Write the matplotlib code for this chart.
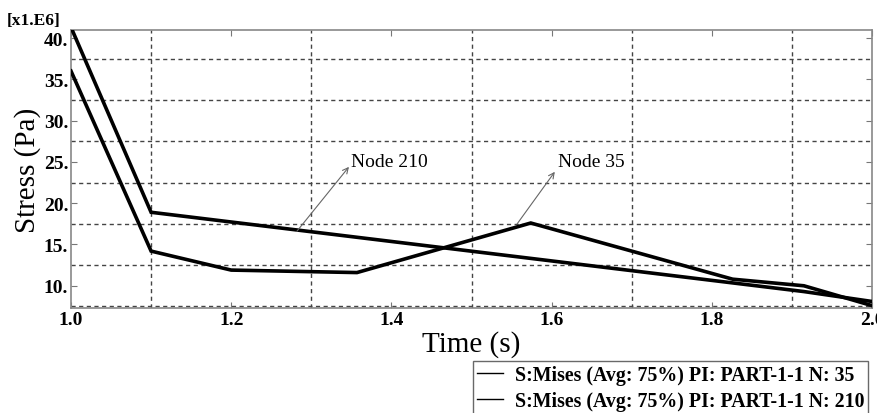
import matplotlib
matplotlib.use("Agg")
import matplotlib.pyplot as plt
from matplotlib.lines import Line2D
from matplotlib.ticker import FuncFormatter, FixedLocator

# ---- data (stress in 1e6 Pa) ----
t_node35 = [1.0, 1.1, 1.2, 1.357, 1.574, 1.826, 1.915, 2.0]
s_node35 = [36.0, 14.2, 11.9, 11.6, 17.6, 10.8, 10.0, 7.6]
t_node210 = [1.0, 1.1, 1.915, 2.0]
s_node210 = [41.3, 18.9, 9.3, 8.1]
legend_labels = ["S:Mises (Avg: 75%) PI: PART-1-1 N: 35",
                 "S:Mises (Avg: 75%) PI: PART-1-1 N: 210"]
x_ticks = [1.0, 1.2, 1.4, 1.6, 1.8, 2.0]
y_ticks = [10, 15, 20, 25, 30, 35, 40]
x_grid = [1.1, 1.3, 1.5, 1.7, 1.9]
y_grid = [7.5, 12.5, 17.5, 22.5, 27.5, 32.5, 37.5]

plt.rcParams['font.family'] = ['Liberation Serif', 'DejaVu Serif']

fig = plt.figure(figsize=(8.77, 4.14), dpi=100)
ax = fig.add_axes([71/877, 1 - 309/414, (872 - 71)/877, (309 - 31)/414])

ax.plot(t_node35, s_node35, color='black', lw=2.6, solid_joinstyle='miter', zorder=3)
ax.plot(t_node210, s_node210, color='black', lw=2.6, solid_joinstyle='miter', zorder=3)

ax.set_xlim(1.0, 2.0)
ax.set_ylim(7.31, 40.97)

gcol = '#444444'
for g in x_grid:
    ax.axvline(g, color=gcol, lw=1.0, ls=(0, (3, 2.5)), zorder=1)
for g in y_grid:
    ax.axhline(g, color=gcol, lw=1.0, ls=(0, (3, 2.5)), zorder=1)

ax.xaxis.set_major_locator(FixedLocator(x_ticks))
ax.yaxis.set_major_locator(FixedLocator(y_ticks))
ax.xaxis.set_major_formatter(FuncFormatter(lambda v, p: f"{v:.1f}"))
ax.yaxis.set_major_formatter(FuncFormatter(lambda v, p: f"{v:.0f}."))
ax.tick_params(direction='in', length=4, width=0.8, colors='#777777',
               top=True, right=True, labelcolor='black', pad=2)
for lab in ax.get_xticklabels() + ax.get_yticklabels():
    lab.set_fontweight('bold')
    lab.set_fontsize(14)
for sp in ax.spines.values():
    sp.set_color('#888888')
    sp.set_linewidth(1.2)

ax.set_xlabel("Time (s)", fontsize=21, labelpad=2)
ax.set_ylabel("Stress (Pa)", fontsize=21, labelpad=2)

fig.text(7/877, 1 - 21/414, "[x1.E6]", fontsize=12.5, fontweight='bold',
         ha='left', va='center')

# annotations
ax.annotate("", xy=(1.347, 24.4), xytext=(1.282, 16.6),
            arrowprops=dict(arrowstyle='->', color='#666666', lw=0.8, shrinkA=0, shrinkB=0))
ax.text(1.349, 25.0, "Node 210", fontsize=14, ha='left', va='center')
ax.annotate("", xy=(1.604, 23.8), xytext=(1.557, 17.5),
            arrowprops=dict(arrowstyle='->', color='#666666', lw=0.8, shrinkA=0, shrinkB=0))
ax.text(1.608, 25.0, "Node 35", fontsize=14, ha='left', va='center')

handles = [Line2D([], [], color='black', lw=1.0, label=legend_labels[0]),
           Line2D([], [], color='black', lw=1.0, label=legend_labels[1])]
leg = fig.legend(handles=handles, loc='upper left',
                 bbox_to_anchor=(473/877, 1 - 362/414),
                 prop={'family': 'Liberation Serif', 'weight': 'bold', 'size': 14.3},
                 frameon=True, fancybox=False, borderaxespad=0, borderpad=0.2,
                 handlelength=1.3, handletextpad=0.6, labelspacing=0.3)
leg.get_frame().set_edgecolor('#444444')
leg.get_frame().set_linewidth(1.0)

fig.savefig("out.png", dpi=100)
